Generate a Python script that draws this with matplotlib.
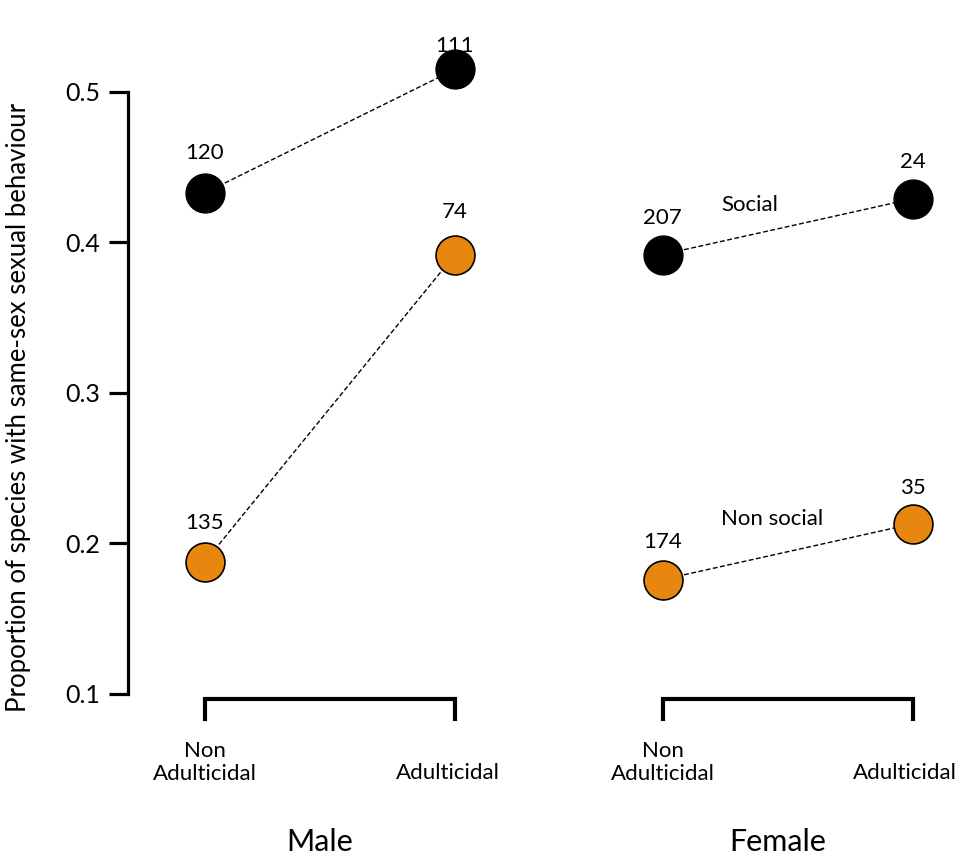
import numpy as np
import matplotlib.pyplot as plt

plt.rcParams['font.family'] = ['Lato', 'DejaVu Sans']

# data
groups = ['Male', 'Female']
conditions = ['Non\nAdulticidal', 'Adulticidal']
social = [[0.433, 0.515], [0.392, 0.429]]
non_social = [[0.188, 0.392], [0.176, 0.213]]
n_social = [[120, 111], [207, 24]]
n_non_social = [[135, 74], [174, 35]]

group_x = [0.0, 1.83]     # where each group starts on the x axis
lab_off_social = [[40, 23], [37, 37]]
lab_off_non = [[39, 43], [38, 36]]

fig = plt.figure(figsize=(9.6, 8.63), dpi=100)
ax = fig.add_axes([128 / 960, 0, 832 / 960, 1])
ax.set_xlim(-0.308, 3.02)
ax.set_ylim(-0.0123, 0.5611)

orange = '#E8870F'
ms = 28
dash = (0, (3.5, 1.8))
fs = 16

for g in range(len(groups)):
    x = np.array([0, 1]) + group_x[g]
    ax.plot(x, social[g], color='black', lw=1, linestyle=dash, zorder=1)
    ax.plot(x, non_social[g], color='black', lw=1, linestyle=dash, zorder=1)
    ax.plot(x, social[g], 'o', ms=ms, mfc='black', mec='black', zorder=2)
    ax.plot(x, non_social[g], 'o', ms=ms, mfc=orange, mec='black', mew=1.2, zorder=2)
    for i in range(2):
        ax.annotate(str(n_social[g][i]), (x[i], social[g][i]),
                    xytext=(0, lab_off_social[g][i] * 0.72), textcoords='offset points',
                    ha='center', va='center', fontsize=fs)
        ax.annotate(str(n_non_social[g][i]), (x[i], non_social[g][i]),
                    xytext=(0, lab_off_non[g][i] * 0.72), textcoords='offset points',
                    ha='center', va='center', fontsize=fs)
    # bracket under each group
    ax.plot([x[0], x[0], x[1], x[1]], [0.0833, 0.0967, 0.0967, 0.0833],
            color='black', lw=3, clip_on=False, solid_joinstyle='miter')
    ax.text(x[0], 0.0545, conditions[0], ha='center', va='center', fontsize=fs,
            linespacing=1.15)
    ax.text(x[1] - 0.03, 0.0475, conditions[1], ha='center', va='center', fontsize=fs)
    ax.text(x.mean() - 0.04, 0.0017, groups[g], ha='center', va='center', fontsize=22)

ax.text(group_x[1] + 0.35, 0.425, 'Social', ha='center', va='center', fontsize=fs)
ax.text(group_x[1] + 0.44, 0.216, 'Non social', ha='center', va='center', fontsize=fs)

ax.spines[['top', 'right', 'bottom']].set_visible(False)
ax.spines['left'].set_bounds(0.1, 0.5)
ax.spines['left'].set_linewidth(2.3)
ax.set_yticks([0.1, 0.2, 0.3, 0.4, 0.5])
ax.set_yticklabels(['0.1', '0.2', '0.3', '0.4', '0.5'])
ax.tick_params(axis='y', length=14, width=2.3, labelsize=18, pad=6)
ax.set_xticks([])
ax.set_ylabel('Proportion of species with same-sex sexual behaviour', fontsize=18.5,
              va='center')
ax.yaxis.set_label_coords(-0.132, 0.528)

fig.savefig('out.png', dpi=100)
